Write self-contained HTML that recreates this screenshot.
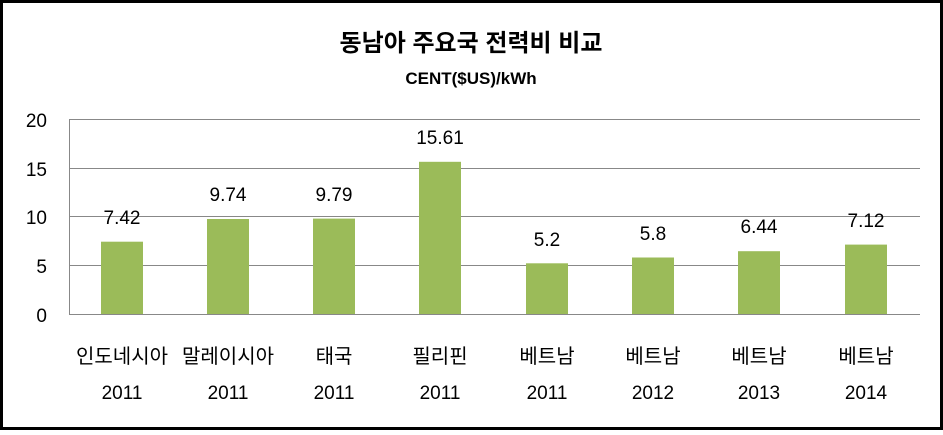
<!DOCTYPE html>
<html><head><meta charset="utf-8"><style>
body{margin:0;background:#fff;}
svg text{font-family:"Liberation Sans","Noto Sans CJK KR","NanumGothic",sans-serif;}
</style></head><body>
<svg width="943" height="430" xmlns="http://www.w3.org/2000/svg">
<rect x="1.5" y="1.5" width="940" height="427" fill="#fff" stroke="#000" stroke-width="3"/>
<text x="471" y="51" text-anchor="middle" font-size="24" font-weight="bold">동남아 주요국 전력비 비교</text>
<text x="471" y="84" text-anchor="middle" font-size="17" font-weight="bold">CENT($US)/kWh</text>
<g stroke="#888" stroke-width="1">
<line x1="69" y1="119.5" x2="920" y2="119.5"/>
<line x1="69" y1="168.5" x2="920" y2="168.5"/>
<line x1="69" y1="216.5" x2="920" y2="216.5"/>
<line x1="69" y1="265.5" x2="920" y2="265.5"/>
<line x1="69" y1="314.5" x2="920" y2="314.5"/>
<line x1="69.5" y1="119" x2="69.5" y2="314"/>
</g>
<g font-size="19" text-anchor="end">
<text x="47" y="127">20</text><text x="47" y="176">15</text><text x="47" y="224">10</text><text x="47" y="273">5</text><text x="47" y="322">0</text>
</g>
<g fill="#9bbb59">
<rect x="101" y="241.7" width="42" height="72.3"/>
<rect x="207" y="219.0" width="42" height="95"/>
<rect x="313" y="218.6" width="42" height="95.4"/>
<rect x="419" y="161.8" width="42" height="152.2"/>
<rect x="526" y="263.3" width="42" height="50.7"/>
<rect x="632" y="257.5" width="42" height="56.5"/>
<rect x="738" y="251.2" width="42" height="62.8"/>
<rect x="845" y="244.6" width="42" height="69.4"/>
</g>
<g font-size="19" text-anchor="middle">
<text x="122" y="224">7.42</text><text x="228" y="201">9.74</text><text x="334" y="201">9.79</text><text x="440" y="144">15.61</text>
<text x="547" y="246">5.2</text><text x="653" y="240">5.8</text><text x="759" y="233">6.44</text><text x="866" y="227">7.12</text>
</g>
<g font-size="20" text-anchor="middle">
<text x="122" y="363">인도네시아</text><text x="228" y="363">말레이시아</text><text x="334" y="363">태국</text><text x="440" y="363">필리핀</text>
<text x="547" y="363">베트남</text><text x="653" y="363">베트남</text><text x="759" y="363">베트남</text><text x="866" y="363">베트남</text>
</g>
<g font-size="19" text-anchor="middle">
<text x="122" y="399">2011</text><text x="228" y="399">2011</text><text x="334" y="399">2011</text><text x="440" y="399">2011</text>
<text x="547" y="399">2011</text><text x="653" y="399">2012</text><text x="759" y="399">2013</text><text x="866" y="399">2014</text>
</g>
</svg>
</body></html>
